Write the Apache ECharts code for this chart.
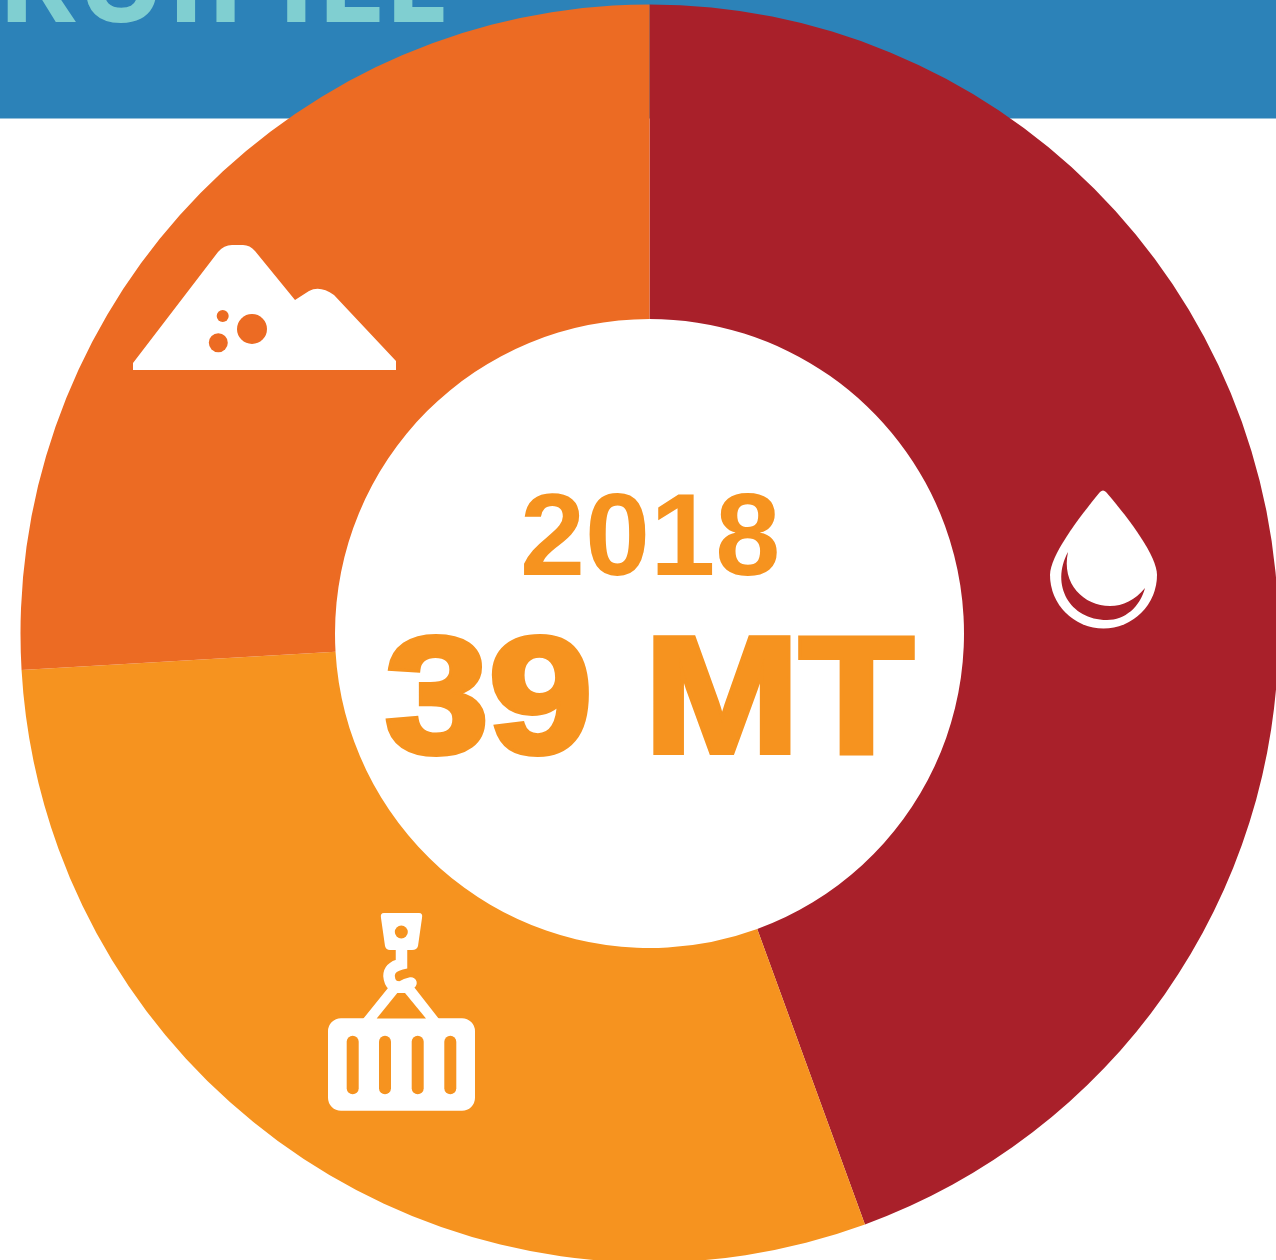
<!DOCTYPE html>
<html>
<head>
<meta charset="utf-8">
<style>
  html, body { margin: 0; padding: 0; background: #fff; }
  #chart { width: 1276px; height: 1260px; }
</style>
<script src="https://cdn.jsdelivr.net/npm/echarts@6/dist/echarts.min.js"></script>
</head>
<body>
<div id="chart"></div>
<script>
  // values in million tonnes
  const categories = ['Oil', 'Cargo', 'Ore']
  const values = [17.33, 11.56, 10.11]
  const colors = ['#A9202A', '#F6931F', '#EC6B23']
  const yearLabel = '2018'
  const totalLabel = '39 MT'
  const bandLabel = 'RUII ILE'

  const WHITE = '#fff'
  const [RED, AMBER, RUST] = colors

  // graphic has no plain svg path type, so the icon outlines get registered as shapes
  const iconPaths = {
    mound: 'M133 370 L133 363 L218 252 Q224 245 232 245 L243 245 Q250 245 255 251 L295 300 L309 291 Q320 285 334 295 L396 361 L396 370 Z',
    drop: 'M1100 492 Q1103 489 1106 492 C1130 520 1157 556 1157 575 A53.5 53.5 0 0 1 1050 575 C1050 556 1077 520 1100 492 Z',
    dropShine: 'M1068 552 C1050 585 1070 620 1107 620 C1125 620 1140 607 1145 588 C1135 600 1123 606 1110 606 C1084 606 1061 584 1068 552 Z',
    hookBlock: 'M384 913 L419 913 Q423 913 422 918 L418 946 Q417 950 412 950 L390 950 Q386 950 385 946 L381 918 Q380 913 384 913 Z',
    hook: 'M401.5 950 L401.5 964 Q389 967 389 976 Q390 988 401 987 Q406 984 411 983',
    sling: 'M363 1019 L388 988 L396 982 L410 981 L414 987 L439 1019 Z',
    slingGap: 'M376.7 1018.5 L397.3 993 L405 993 L426 1018.5 Z'
  }
  Object.keys(iconPaths).forEach((name) => {
    echarts.graphic.registerShape(name, echarts.graphic.extendPath(iconPaths[name]))
  })

  const pathEl = (type, fill, z = 10) => ({ type, z, style: { fill } })
  const circleEl = (cx, cy, r, fill) => ({
    type: 'circle', z: 11, shape: { cx, cy, r }, style: { fill }
  })
  const rectEl = (x, y, width, height, r, fill, z = 11) => ({
    type: 'rect', z, shape: { x, y, width, height, r }, style: { fill }
  })
  const textEl = (text, x, y, font, fill, lineWidth = 0, scaleX = 1) => ({
    type: 'text',
    z: 10,
    x,
    y,
    scaleX,
    style: {
      text, font, fill,
      align: 'left',
      verticalAlign: 'middle',
      stroke: lineWidth ? fill : null,
      lineWidth
    }
  })

  // ==== icons ====
  const moundIcon = [
    pathEl('mound', WHITE),
    circleEl(252, 329, 15, RUST),
    circleEl(222.7, 316, 6, RUST),
    circleEl(218.3, 342.7, 9.5, RUST)
  ]

  const dropIcon = [
    pathEl('drop', WHITE),
    pathEl('dropShine', RED, 11)
  ]

  const containerIcon = [
    pathEl('hookBlock', WHITE),
    circleEl(401.3, 932, 6.5, AMBER),
    {
      type: 'hook',
      z: 10,
      style: { stroke: WHITE, lineWidth: 11.5, fill: null, lineCap: 'round' }
    },
    pathEl('sling', WHITE),
    pathEl('slingGap', AMBER, 11),
    rectEl(328, 1018.3, 147, 92.4, 13, WHITE, 10),
    rectEl(346.7, 1035.7, 12, 58.6, 6, AMBER),
    rectEl(379, 1035.7, 12, 58.6, 6, AMBER),
    rectEl(411.7, 1035.7, 12, 58.6, 6, AMBER),
    rectEl(444.3, 1035.7, 12, 58.6, 6, AMBER)
  ]

  const chart = echarts.init(document.getElementById('chart'), null, { renderer: 'canvas' })

  chart.setOption({
    animation: false,
    backgroundColor: WHITE,
    graphic: {
      elements: [
        { type: 'rect', z: -10, shape: { x: 0, y: 0, width: 1276, height: 118.5 }, style: { fill: '#2C82B8' } },
        textEl(bandLabel, -3, -12, 'bold 119.5px "Open Sans"', '#80CFD1'),
        ...moundIcon,
        ...dropIcon,
        ...containerIcon,
        textEl(yearLabel, 520, 543, 'bold 117px "Liberation Sans"', AMBER),
        textEl(totalLabel, 385, 706, 'bold 166px "Liberation Sans"', AMBER, 6, 1.123)
      ]
    },
    series: [
      {
        type: 'pie',
        silent: true,
        center: [649.5, 633.5],
        radius: [314.5, 629],
        startAngle: 90,
        clockwise: true,
        label: { show: false },
        labelLine: { show: false },
        data: categories.map((name, i) => ({
          name,
          value: values[i],
          itemStyle: { color: colors[i] }
        }))
      }
    ]
  })
</script>
</body>
</html>
